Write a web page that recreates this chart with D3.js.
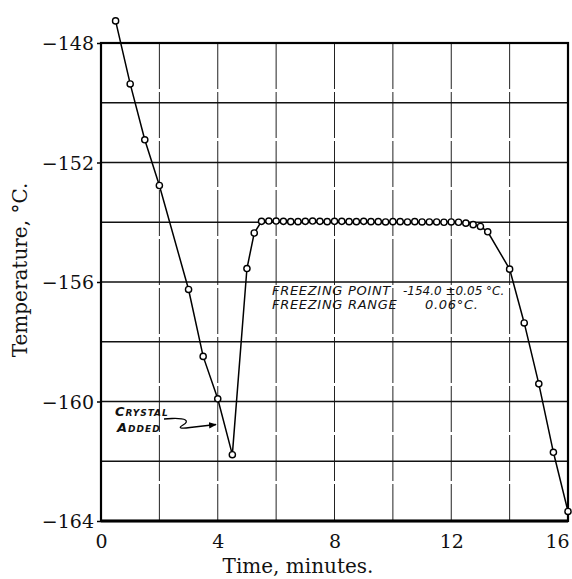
<!DOCTYPE html>
<html>
<head>
<meta charset="utf-8">
<script src="https://cdn.jsdelivr.net/npm/d3@7/dist/d3.min.js"></script>
<style>
body{margin:0;background:#fff;}
.tick text{font-family:"DejaVu Serif",serif;font-size:19px;fill:#111;}
.note{font-family:"DejaVu Sans",sans-serif;font-style:italic;fill:#111;}
</style>
</head>
<body>
<svg id="chart" width="572" height="579"></svg>
<script>
// readings (time in minutes, temperature in deg C)
var times = [0.5, 1.0, 1.5, 2.0, 3.0, 3.5, 4.0, 4.5, 5.0, 5.25,
  5.5, 5.75, 6.0, 6.25, 6.5, 6.75, 7.0, 7.25, 7.5, 7.75,
  8.0, 8.25, 8.5, 8.75, 9.0, 9.25, 9.5, 9.75, 10.0, 10.25,
  10.5, 10.75, 11.0, 11.25, 11.5, 11.75, 12.0, 12.25, 12.5, 12.75,
  13.0, 13.25, 14.0, 14.5, 15.0, 15.5, 16.0];
var temps = [-147.26, -149.37, -151.24, -152.77, -156.25, -158.49, -159.91, -161.78, -155.55, -154.36,
  -153.97, -153.96, -153.96, -153.97, -153.98, -153.98, -153.97, -153.96, -153.97, -153.98,
  -153.97, -153.97, -153.98, -153.98, -153.97, -153.98, -153.98, -153.99, -153.98, -153.98,
  -153.99, -153.98, -153.99, -153.99, -153.99, -154.0, -153.99, -154.0, -154.03, -154.08,
  -154.14, -154.32, -155.57, -157.37, -159.41, -161.7, -163.68];

var xTicks = [0, 4, 8, 12, 16];
var yTicks = [-148, -152, -156, -160, -164];
var xGrid = [2, 4, 6, 8, 10, 12, 14];
var yGrid = [-150, -152, -154, -156, -158, -160, -162];

var svg = d3.select("#chart");
var mLeft = 101, mTop = 43, w = 467, h = 478;

var x = d3.scaleLinear().domain([0, 16]).range([mLeft, mLeft + w]);
var y = d3.scaleLinear().domain([-148, -164]).range([mTop, mTop + h]);

var pts = times.map(function(t, i) { return [t, temps[i]]; });

// grid
svg.append("g").selectAll("line").data(xGrid).enter().append("line")
  .attr("x1", function(d) { return x(d); }).attr("x2", function(d) { return x(d); })
  .attr("y1", mTop).attr("y2", mTop + h)
  .attr("stroke", "#222").attr("stroke-width", 1)
  .attr("stroke-dasharray", "46,3");
svg.append("g").selectAll("line").data(yGrid).enter().append("line")
  .attr("x1", mLeft).attr("x2", mLeft + w)
  .attr("y1", function(d) { return y(d); }).attr("y2", function(d) { return y(d); })
  .attr("stroke", "#111").attr("stroke-width", 1.7);

// frame
svg.append("rect").attr("x", mLeft).attr("y", mTop).attr("width", w).attr("height", h)
  .attr("fill", "none").attr("stroke", "#000").attr("stroke-width", 2.2);
svg.append("line").attr("x1", mLeft).attr("x2", mLeft + w).attr("y1", mTop + h).attr("y2", mTop + h)
  .attr("stroke", "#000").attr("stroke-width", 3);

// axes
var yAxis = svg.append("g").attr("transform", "translate(" + mLeft + ",0)")
  .call(d3.axisLeft(y).tickValues(yTicks).tickSize(4).tickPadding(3));
var xAxis = svg.append("g").attr("transform", "translate(0," + (mTop + h) + ")")
  .call(d3.axisBottom(x).tickValues(xTicks).tickSize(0).tickPadding(14));
svg.selectAll(".domain").remove();
yAxis.selectAll(".tick line").attr("stroke", "#000").attr("stroke-width", 1.5);
yAxis.selectAll(".tick text").attr("dy", "0.36em");
xAxis.selectAll(".tick text").filter(function(d) { return d === 16; }).attr("dx", -11);

// titles
svg.append("text").attr("x", 298).attr("y", 573).attr("text-anchor", "middle")
  .style("font-family", '"DejaVu Serif",serif').style("font-size", "20px").style("fill", "#111")
  .text("Time, minutes.");
svg.append("text").attr("transform", "translate(27,270) rotate(-90)").attr("text-anchor", "middle")
  .style("font-family", '"DejaVu Serif",serif').style("font-size", "20px").style("fill", "#111")
  .text("Temperature, \u00B0C.");

// curve
var line = d3.line().x(function(d) { return x(d[0]); }).y(function(d) { return y(d[1]); });
svg.append("path").datum(pts).attr("d", line)
  .attr("fill", "none").attr("stroke", "#000").attr("stroke-width", 1.5);
svg.append("g").selectAll("circle").data(pts).enter().append("circle")
  .attr("cx", function(d) { return x(d[0]); })
  .attr("cy", function(d) { return y(d[1]); })
  .attr("r", 3.1)
  .attr("fill", "#fff").attr("stroke", "#000").attr("stroke-width", 1.4);

// freezing notes
var n1 = svg.append("text").attr("class", "note").style("font-size", "13px")
  .style("letter-spacing", "0.7px").attr("y", 295);
n1.append("tspan").attr("x", 272).text("FREEZING POINT");
n1.append("tspan").attr("x", 403).style("letter-spacing", "0px").style("font-size", "12px")
  .text("-154.0 \u00B10.05 \u00B0C.");
var n2 = svg.append("text").attr("class", "note").style("font-size", "13px")
  .style("letter-spacing", "0.7px").attr("y", 308.5);
n2.append("tspan").attr("x", 272).text("FREEZING RANGE");
n2.append("tspan").attr("x", 425).text("0.06\u00B0C.");

// crystal added arrow
svg.append("defs").append("marker").attr("id", "head")
  .attr("viewBox", "0 0 10 10").attr("refX", 9).attr("refY", 5)
  .attr("markerWidth", 6).attr("markerHeight", 6).attr("orient", "auto")
  .append("path").attr("d", "M0,1L10,5L0,9z").attr("fill", "#000");
svg.append("text").attr("class", "note").attr("x", 115).attr("y", 416)
  .style("font-size", "13px").style("font-weight", "bold").style("font-variant", "small-caps")
  .style("letter-spacing", "1px").text("Crystal");
svg.append("text").attr("class", "note").attr("x", 117).attr("y", 432)
  .style("font-size", "13px").style("font-weight", "bold").style("font-variant", "small-caps")
  .style("letter-spacing", "1px").text("Added");
svg.append("path")
  .attr("d", "M164,419L172,418.5C186,418 190,421 183,425C176,429 184,428.5 190,427.5L216,424.5")
  .attr("fill", "none").attr("stroke", "#000").attr("stroke-width", 1.3)
  .attr("marker-end", "url(#head)");
</script>
</body>
</html>
